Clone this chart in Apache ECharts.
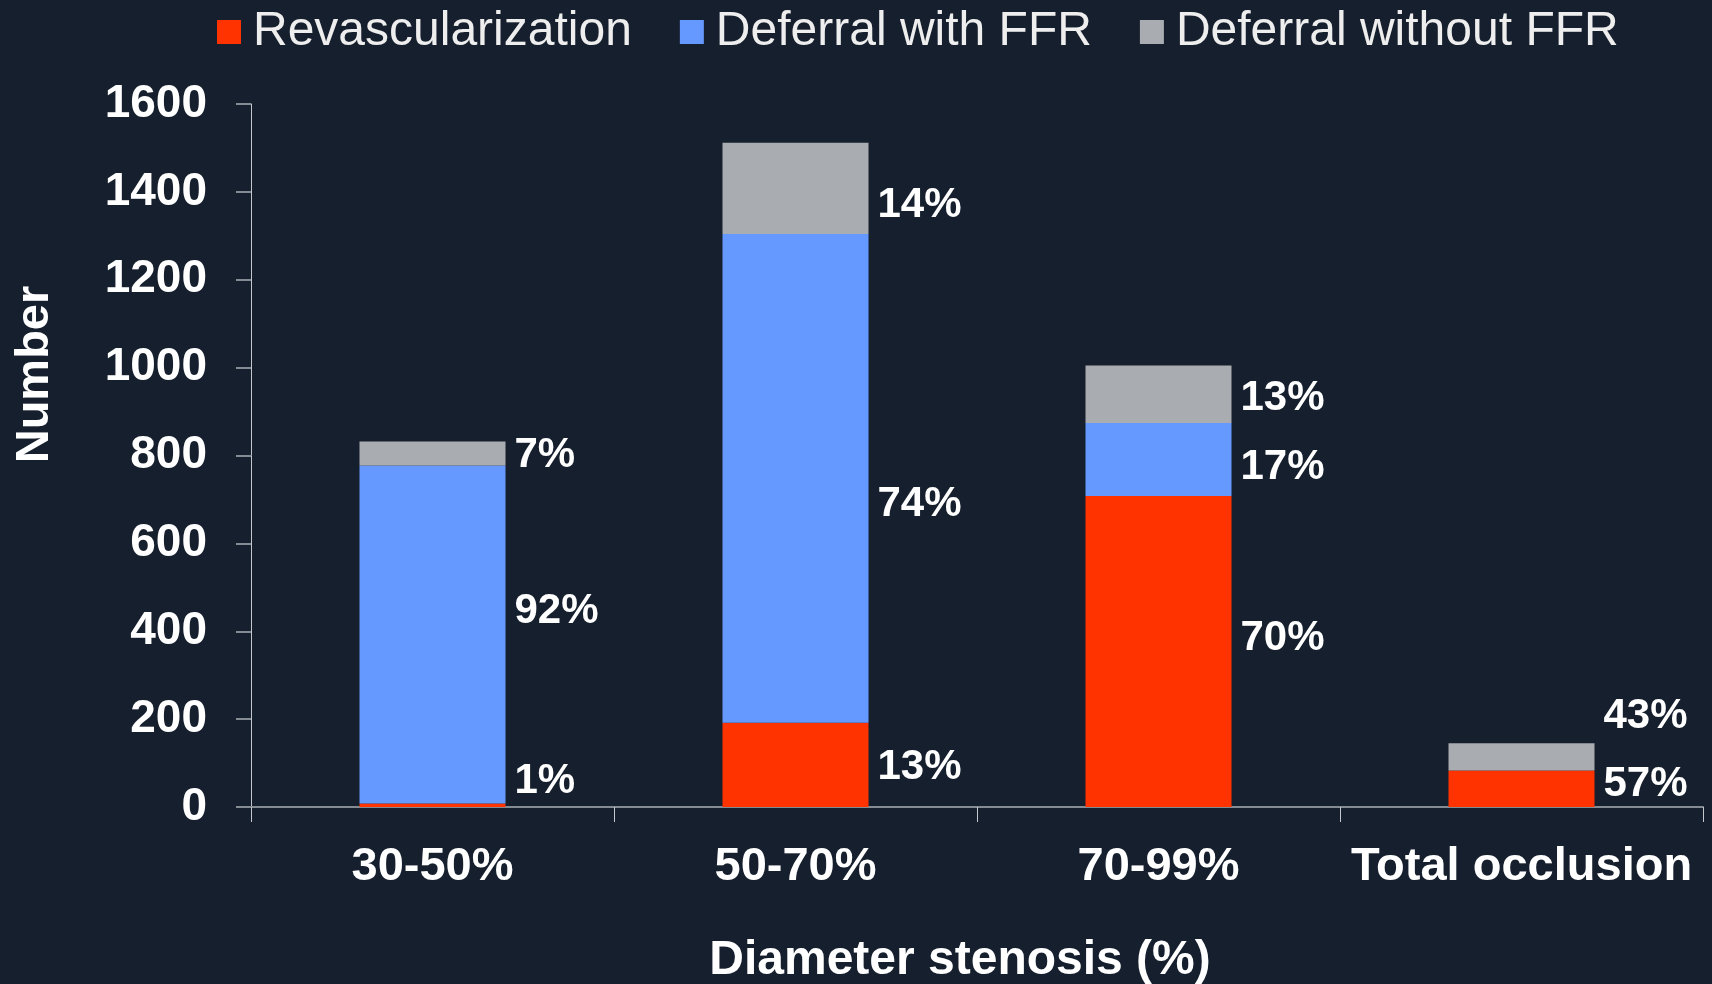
<!DOCTYPE html>
<html>
<head>
<meta charset="utf-8">
<script src="https://cdn.jsdelivr.net/npm/echarts@6/dist/echarts.min.js"></script>
<style>
  html, body { margin: 0; padding: 0; background: #161f2d; }
  #chart { width: 1712px; height: 984px; }
</style>
</head>
<body>
<div id="chart"></div>
<script>
// Lesions by diameter stenosis, split by treatment decision
const categories = ['30-50%', '50-70%', '70-99%', 'Total occlusion'];
const revascularization = [8, 192, 708, 83];
const deferralWithFFR = [769, 1112, 166, null];
const deferralWithoutFFR = [55, 208, 131, 62];
const yTicks = [0, 200, 400, 600, 800, 1000, 1200, 1400, 1600];

const FONT = '"Liberation Sans", Arial, sans-serif';
const COLORS = ['#ff3300', '#6699ff', '#a9acb0'];

// vertical nudges for the share labels, per stack segment and category
const labelNudge = [
  [-24, 3, -13, -4],
  [-23, 26, 8, 0],
  [2, 17, 4, -40]
];

const totals = categories.map((_, i) =>
  (revascularization[i] || 0) + (deferralWithFFR[i] || 0) + (deferralWithoutFFR[i] || 0));

function makeSeries(name, values, idx) {
  return {
    name: name,
    type: 'bar',
    stack: 'total',
    barWidth: 146,
    itemStyle: { color: COLORS[idx] },
    data: values.map((v, i) => ({
      value: v,
      label: {
        show: v != null,
        position: 'right',
        distance: 9,
        offset: [0, labelNudge[idx][i]],
        formatter: () => Math.round(v / totals[i] * 100) + '%',
        color: '#ffffff',
        fontFamily: FONT,
        fontWeight: 'bold',
        fontSize: 42
      }
    }))
  };
}

const chart = echarts.init(document.getElementById('chart'), null, { renderer: 'canvas' });
chart.setOption({
  backgroundColor: '#161f2d',
  animation: false,
  legend: {
    left: 217,
    top: 8,
    padding: 0,
    icon: 'rect',
    itemWidth: 24,
    itemHeight: 24,
    itemGap: 48,
    textStyle: {
      color: '#eeeeee',
      fontFamily: FONT,
      fontSize: 48,
      padding: [0, 0, 0, 7]
    },
    data: ['Revascularization', 'Deferral with FFR', 'Deferral without FFR']
  },
  grid: { left: 251, right: 9, top: 104, bottom: 177, outerBoundsMode: 'none' },
  xAxis: {
    type: 'category',
    data: categories,
    name: 'Diameter stenosis (%)',
    nameLocation: 'middle',
    nameGap: 130,
    nameTextStyle: {
      color: '#ffffff', fontFamily: FONT, fontWeight: 'bold', fontSize: 48,
      padding: [0, 34, 0, 0]
    },
    axisLine: { show: true, lineStyle: { color: '#858b93', width: 2 } },
    axisTick: { show: true, interval: 0, length: 15, lineStyle: { color: '#c4c7cb', width: 1 } },
    axisLabel: {
      interval: 0,
      color: '#ffffff', fontFamily: FONT, fontWeight: 'bold', fontSize: 47, margin: 37
    }
  },
  yAxis: {
    type: 'value',
    min: yTicks[0],
    max: yTicks[yTicks.length - 1],
    interval: yTicks[1] - yTicks[0],
    name: 'Number',
    nameLocation: 'middle',
    nameRotate: 90,
    nameGap: 192,
    nameTextStyle: {
      color: '#ffffff', fontFamily: FONT, fontWeight: 'bold', fontSize: 47,
      padding: [0, 0, 0, 162]
    },
    splitLine: { show: false },
    axisLine: { show: true, lineStyle: { color: '#c4c7cb', width: 1 } },
    axisTick: { show: true, length: 15, lineStyle: { color: '#858b93', width: 2 } },
    axisLabel: {
      color: '#ffffff', fontFamily: FONT, fontWeight: 'bold', fontSize: 46, margin: 44,
      formatter: (v) => String(v)
    }
  },
  series: [
    makeSeries('Revascularization', revascularization, 0),
    makeSeries('Deferral with FFR', deferralWithFFR, 1),
    makeSeries('Deferral without FFR', deferralWithoutFFR, 2)
  ]
});
</script>
</body>
</html>
